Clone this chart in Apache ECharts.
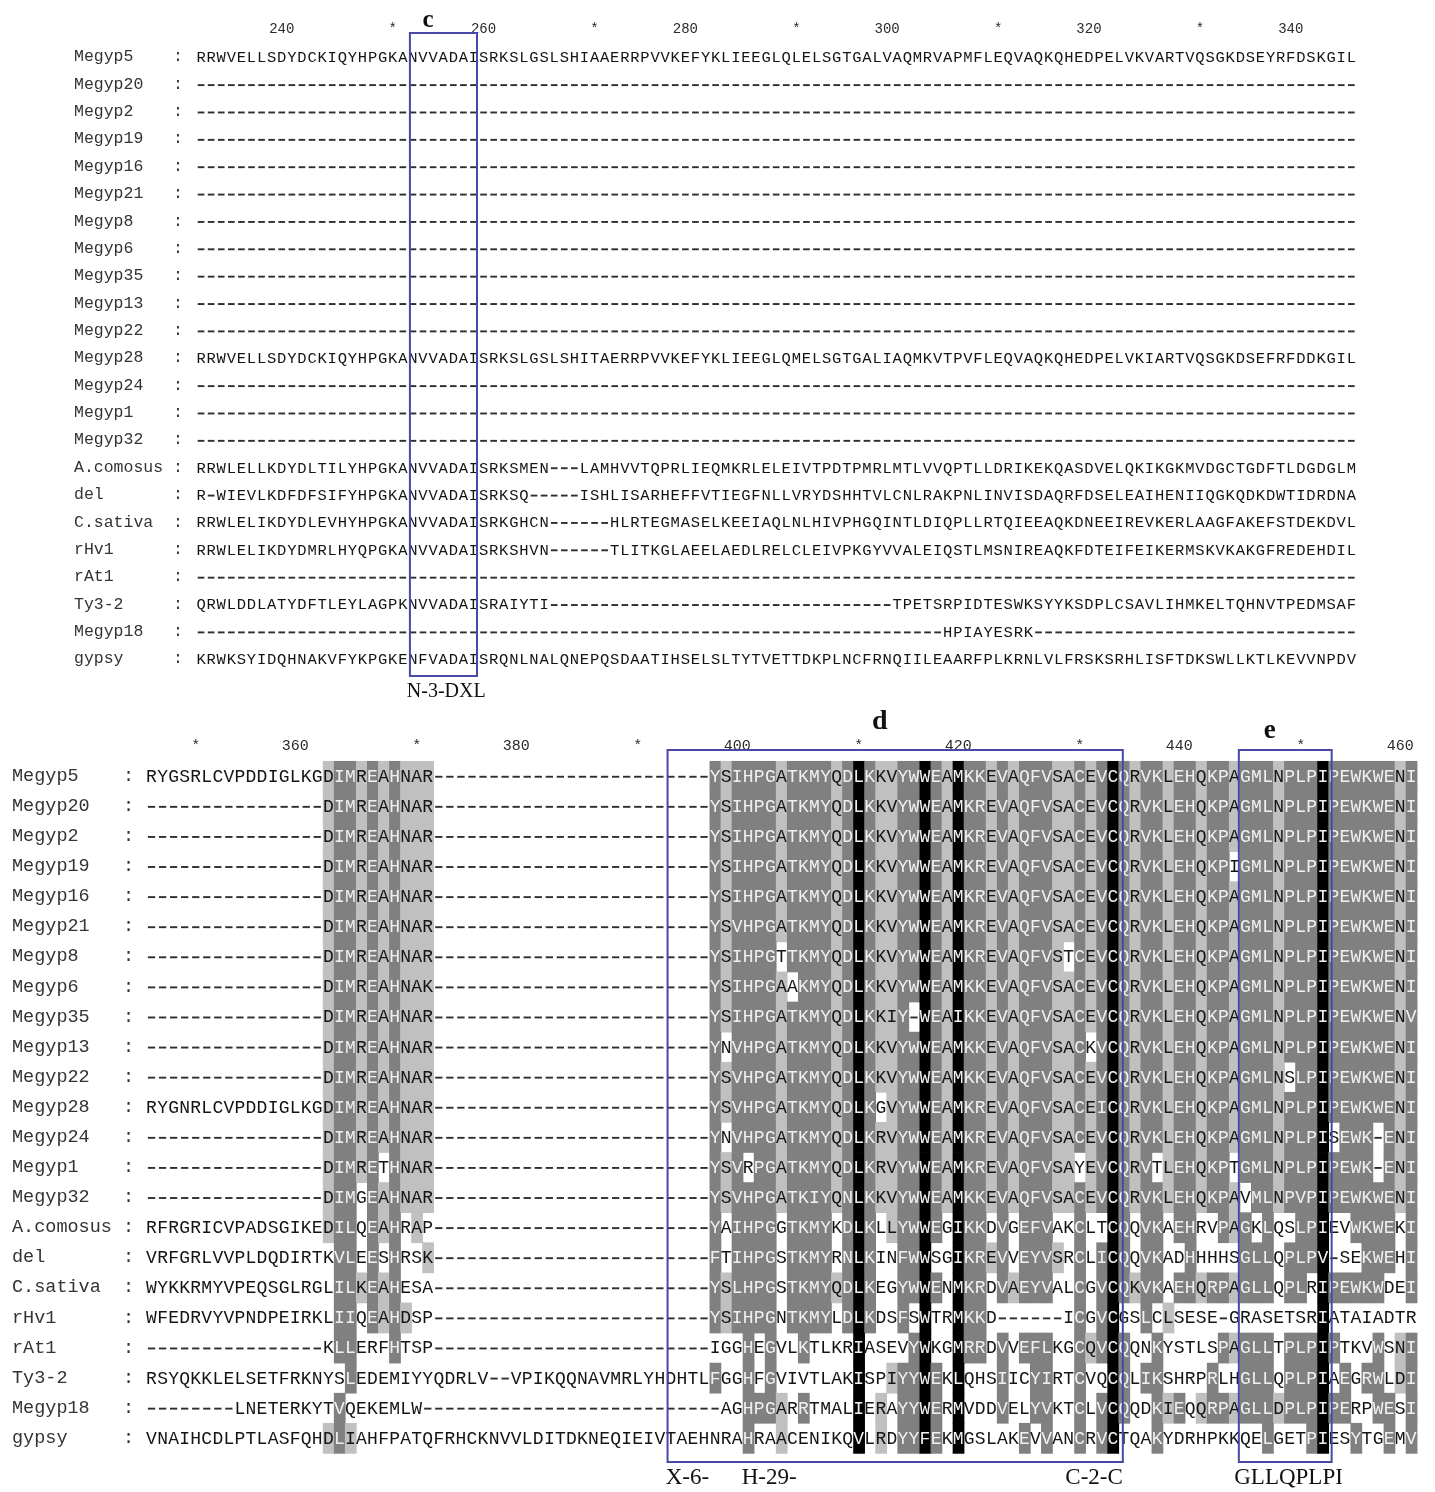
<!DOCTYPE html>
<html><head><meta charset="utf-8">
<script src="https://cdn.jsdelivr.net/npm/echarts/dist/echarts.min.js"></script>
<style>html,body{margin:0;padding:0;background:#fff}#c{width:1435px;height:1492px}</style>
</head><body><div id="c"></div>
<script>
// ---------------- DATA ----------------
const names = ['Megyp5','Megyp20','Megyp2','Megyp19','Megyp16','Megyp21','Megyp8','Megyp6','Megyp35','Megyp13','Megyp22','Megyp28','Megyp24','Megyp1','Megyp32','A.comosus','del','C.sativa','rHv1','rAt1','Ty3-2','Megyp18','gypsy'];

// alignment column of the first position of each block
const topStartCol = 231;
const bottomStartCol = 346;
// ruler tick labels
const topNumTicks = [240, 260, 280, 300, 320, 340];
const topStarTicks = [250, 270, 290, 310, 330];
const botNumTicks = [360, 380, 400, 420, 440, 460];
const botStarTicks = [350, 370, 390, 410, 430, 450];

const GAP = n => '-'.repeat(n);

// top block: columns 231-345
const topSeqs = [
 'RRWVELLSDYDCKIQYHPGKANVVADAISRKSLGSLSHIAAERRPVVKEFYKLIEEGLQLELSGTGALVAQMRVAPMFLEQVAQKQHEDPELVKVARTVQSGKDSEYRFDSKGIL',
 GAP(115), GAP(115), GAP(115), GAP(115), GAP(115), GAP(115), GAP(115), GAP(115), GAP(115), GAP(115),
 'RRWVELLSDYDCKIQYHPGKANVVADAISRKSLGSLSHITAERRPVVKEFYKLIEEGLQMELSGTGALIAQMKVTPVFLEQVAQKQHEDPELVKIARTVQSGKDSEFRFDDKGIL',
 GAP(115), GAP(115), GAP(115),
 'RRWLELLKDYDLTILYHPGKANVVADAISRKSMEN---LAMHVVTQPRLIEQMKRLELEIVTPDTPMRLMTLVVQPTLLDRIKEKQASDVELQKIKGKMVDGCTGDFTLDGDGLM',
 'R-WIEVLKDFDFSIFYHPGKANVVADAISRKSQ-----ISHLISARHEFFVTIEGFNLLVRYDSHHTVLCNLRAKPNLINVISDAQRFDSELEAIHENIIQGKQDKDWTIDRDNA',
 'RRWLELIKDYDLEVHYHPGKANVVADAISRKGHCN------HLRTEGMASELKEEIAQLNLHIVPHGQINTLDIQPLLRTQIEEAQKDNEEIREVKERLAAGFAKEFSTDEKDVL',
 'RRWLELIKDYDMRLHYQPGKANVVADAISRKSHVN------TLITKGLAEELAEDLRELCLEIVPKGYVVALEIQSTLMSNIREAQKFDTEIFEIKERMSKVKAKGFREDEHDIL',
 GAP(115),
 'QRWLDDLATYDFTLEYLAGPKNVVADAISRAIYTI' + GAP(34) + 'TPETSRPIDTESWKSYYKSDPLCSAVLIHMKELTQHNVTPEDMSAF',
 GAP(74) + 'HPIAYESRK' + GAP(32),
 'KRWKSYIDQHNAKVFYKPGKENFVADAISRQNLNALQNEPQSDAATIHSELSLTYTVETTDKPLNCFRNQIILEAARFPLKRNLVLFRSKSRHLISFTDKSWLLKTLKEVVNPDV'
];

// bottom block: columns 346-460, in three parts (0-25, 26-50, 51-114)
const botHeads = [
 'RYGSRLCVPDDIGLKGDIMREAHNAR',
 GAP(16)+'DIMREAHNAR', GAP(16)+'DIMREAHNAR', GAP(16)+'DIMREAHNAR', GAP(16)+'DIMREAHNAR',
 GAP(16)+'DIMREAHNAR', GAP(16)+'DIMREAHNAR', GAP(16)+'DIMREAHNAK', GAP(16)+'DIMREAHNAR',
 GAP(16)+'DIMREAHNAR', GAP(16)+'DIMREAHNAR',
 'RYGNRLCVPDDIGLKGDIMREAHNAR',
 GAP(16)+'DIMREAHNAR', GAP(16)+'DIMRETHNAR', GAP(16)+'DIMGEAHNAR',
 'RFRGRICVPADSGIKEDILQEAHRAP',
 'VRFGRLVVPLDQDIRTKVLEESHRSK',
 'WYKKRMYVPEQSGLRGLILKEAHESA',
 'WFEDRVYVPNDPEIRKLIIQEAHDSP',
 GAP(16)+'KLLERFHTSP',
 'RSYQKKLELSETFRKNYSLEDEMIYY',
 GAP(8)+'LNETERKYTVQEKEMLW-',
 'VNAIHCDLPTLASFQHDLIAHFPATQ'
];
const botMids = names.map((n, i) => i === 20 ? 'QDRLV--VPIKQQNAVMRLYHDHTL' : (i === 22 ? 'FRHCKNVVLDITDKNEQIEIVTAEH' : GAP(25)));
const botTails = [
 'YSIHPGATKMYQDLKKVYWWEAMKKEVAQFVSACEVCQRVKLEHQKPAGMLNPLPIPEWKWENI',
 'YSIHPGATKMYQDLKKVYWWEAMKREVAQFVSACEVCQRVKLEHQKPAGMLNPLPIPEWKWENI',
 'YSIHPGATKMYQDLKKVYWWEAMKREVAQFVSACEVCQRVKLEHQKPAGMLNPLPIPEWKWENI',
 'YSIHPGATKMYQDLKKVYWWEAMKREVAQFVSACEVCQRVKLEHQKPIGMLNPLPIPEWKWENI',
 'YSIHPGATKMYQDLKKVYWWEAMKREVAQFVSACEVCQRVKLEHQKPAGMLNPLPIPEWKWENI',
 'YSVHPGATKMYQDLKKVYWWEAMKREVAQFVSACEVCQRVKLEHQKPAGMLNPLPIPEWKWENI',
 'YSIHPGTTKMYQDLKKVYWWEAMKREVAQFVSTCEVCQRVKLEHQKPAGMLNPLPIPEWKWENI',
 'YSIHPGAAKMYQDLKKVYWWEAMKKEVAQFVSACEVCQRVKLEHQKPAGMLNPLPIPEWKWENI',
 'YSIHPGATKMYQDLKKIY-WEAIKKEVAQFVSACEVCQRVKLEHQKPAGMLNPLPIPEWKWENV',
 'YNVHPGATKMYQDLKKVYWWEAMKKEVAQFVSACKVCQRVKLEHQKPAGMLNPLPIPEWKWENI',
 'YSVHPGATKMYQDLKKVYWWEAMKKEVAQFVSACEVCQRVKLEHQKPAGMLNSLPIPEWKWENI',
 'YSVHPGATKMYQDLKGVYWWEAMKREVAQFVSACEICQRVKLEHQKPAGMLNPLPIPEWKWENI',
 'YNVHPGATKMYQDLKRVYWWEAMKREVAQFVSACEVCQRVKLEHQKPAGMLNPLPISEWK-ENI',
 'YSVRPGATKMYQDLKRVYWWEAMKREVAQFVSAYEVCQRVTLEHQKPTGMLNPLPIPEWK-ENI',
 'YSVHPGATKIYQNLKKVYWWEAMKKEVAQFVSACEVCQRVKLEHQKPAVMLNPVPIPEWKWENI',
 'YAIHPGGTKMYKDLKLLYWWEGIKKDVGEFVAKCLTCQQVKAEHRVPAGKLQSLPIEVWKWEKI',
 'FTIHPGSTKMYRNLKINFWWSGIKREVVEYVSRCLICQQVKADHHHHSGLLQPLPV-SEKWEHI',
 'YSLHPGSTKMYQDLKEGYWWENMKRDVAEYVALCGVCQKVKAEHQRPAGLLQPLRIPEWKWDEI',
 'YSIHPGNTKMYLDLKDSFSWTRMKKD------ICGVCGSLCLSESE-GRASETSRIATAIADTR',
 'IGGHEGVLKTLKRIASEVYWKGMRRDVVEFLKGCQVCQQNKYSTLSPAGLLTPLPIPTKVWSNI',
 'FGGHFGVIVTLAKISPIYYWEKLQHSIICYIRTCVQCQLIKSHRPRLHGLLQPLPIAEGRWLDI',
 '-AGHPGARRTMALIERAYYWERMVDDVELYVKTCLVCQQDKIEQQRPAGLLDPLPIPERPWESI',
 'NRAHRAACENIKQVLRDYYFEKMGSLAKEVVANCRVCTQAKYDRHPKKQELGETPIESYTGEMV'
];

// shading: 0 none, 1 light grey, 2 dark grey, 3 black
const Z16 = '0000000000000000';
const shadeHeads = [
 Z16+'1221212111', Z16+'1221212111', Z16+'1221212111', Z16+'1221212111', Z16+'1221212111',
 Z16+'1221212111', Z16+'1221212111', Z16+'1221212111', Z16+'1221212111', Z16+'1221212111',
 Z16+'1221212111', Z16+'1221212111', Z16+'1221212111', Z16+'1221202111', Z16+'1220212111',
 Z16+'1220212010', Z16+'0220202001', Z16+'0221212000', Z16+'0220212100', Z16+'0220002000',
 Z16+'0020000000', Z16+'0200000000', Z16+'1210000000'
];
const shadeMids = names.map(() => '0000000000000000000000000');
const shadeTails = [
 '2122221222'+'2123211223'+'2132212122'+'2112123212'+'2122122122'+'2122232222'+'2212',
 '2122221222'+'2123211223'+'2132212122'+'2112123212'+'2122122122'+'2122232222'+'2212',
 '2122221222'+'2123211223'+'2132212122'+'2112123212'+'2122122122'+'2122232222'+'2212',
 '2122221222'+'2123211223'+'2132212122'+'2112123212'+'2122122022'+'2122232222'+'2212',
 '2122221222'+'2123211223'+'2132212122'+'2112123212'+'2122122122'+'2122232222'+'2212',
 '2122221222'+'2123211223'+'2132212122'+'2112123212'+'2122122122'+'2122232222'+'2212',
 '2122220222'+'2123211223'+'2132212122'+'2102123212'+'2122122122'+'2122232222'+'2212',
 '2122221022'+'2123211223'+'2132212122'+'2112123212'+'2122122122'+'2122232222'+'2212',
 '2122221222'+'2123211203'+'2132212122'+'2112123212'+'2122122122'+'2122232222'+'2212',
 '2022221222'+'2123211223'+'2132212122'+'2112023212'+'2122122122'+'2122232222'+'2212',
 '2122221222'+'2123211223'+'2132212122'+'2112123212'+'2122122122'+'2102232222'+'2212',
 '2122221222'+'2123201223'+'2132212122'+'2112123212'+'2122122122'+'2122232222'+'2212',
 '2022221222'+'2123211223'+'2132212122'+'2112123212'+'2122122122'+'2122230222'+'0212',
 '2120221222'+'2123211223'+'2132212122'+'2110123212'+'0122122022'+'2122232222'+'0212',
 '2122221222'+'2123211223'+'2132212122'+'2112123212'+'2122122102'+'2122232222'+'2212',
 '2022220222'+'2023201223'+'2032202022'+'2002003202'+'2022002120'+'2002230022'+'2202',
 '2022220222'+'2023200223'+'0032212022'+'2102023202'+'2002000022'+'2022230002'+'2202',
 '2122220222'+'2123200223'+'2032202122'+'2002023212'+'2022122122'+'2022032222'+'2002',
 '2122220222'+'2023200203'+'0032200000'+'0002023002'+'0100000000'+'0000030000'+'0000',
 '0002020020'+'0003000023'+'0032202022'+'2002123200'+'2000002122'+'2022232000'+'2012',
 '2002020000'+'0003001223'+'2030002002'+'2002003202'+'2000020022'+'2022230202'+'2012',
 '0002221020'+'0003010223'+'2030002002'+'2002023200'+'2120122122'+'2122232200'+'2202',
 '0002001000'+'0003010223'+'2030000020'+'2002023000'+'2000000000'+'2000230020'+'0202'
];

// ---------------- BUILD ----------------
const botSeqs = names.map((n, i) => botHeads[i] + botMids[i] + botTails[i]);
const botShades = names.map((n, i) => shadeHeads[i] + shadeMids[i] + shadeTails[i]);
[topSeqs, botSeqs, botShades].forEach((arr, k) => arr.forEach((s, i) => {
  if (s.length !== 115) throw new Error('length ' + k + ' row ' + i + ' = ' + s.length);
}));

const SHADE = ['#ffffff', '#c0c0c0', '#808080', '#000000'];
const MONO = '"Liberation Mono", "DejaVu Sans Mono", monospace';
const SERIF = '"Liberation Serif", "DejaVu Serif", serif';
const BOX = '#4848a8';

const pad = s => (s + '          ').slice(0, 10) + ':';

function cellSeries(gi, seqs, shades, fontSize) {
  const data = [];
  seqs.forEach((s, r) => { for (let p = 0; p < s.length; p++) data.push([p, r, shades ? +shades[r][p] : 0]); });
  return {
    type: 'custom', xAxisIndex: gi, yAxisIndex: gi, silent: true, animation: false,
    progressive: 0, data, encode: { x: 0, y: 1 },
    renderItem(params, api) {
      const p = api.value(0), r = api.value(1), lv = api.value(2);
      const c = api.coord([p, r]);
      const sz = api.size([1, 1]);
      const ch = seqs[r][p];
      const kids = [];
      if (lv > 0) kids.push({ type: 'rect', shape: { x: c[0] - sz[0] / 2, y: c[1] - sz[1] / 2, width: sz[0] + 0.7, height: sz[1] + 0.7 }, style: { fill: SHADE[lv] } });
      const col = lv >= 2 ? '#f0f0f0' : '#141414';
      if (ch === '-') {
        kids.push({ type: 'rect', shape: { x: c[0] - sz[0] * 0.33, y: c[1] - 0.2, width: sz[0] * 0.66, height: 1.9 }, style: { fill: lv >= 2 ? col : '#2e2e2e' } });
      } else {
        kids.push({ type: 'text', style: { text: ch, x: c[0], y: c[1] + 1, align: 'center', verticalAlign: 'middle', font: fontSize + 'px ' + MONO, fill: col } });
      }
      return { type: 'group', children: kids };
    }
  };
}

function textSeries(gi, items) {
  return {
    type: 'custom', xAxisIndex: gi, yAxisIndex: gi, silent: true, animation: false, clip: false,
    data: items.map(it => [it.x, it.y]), encode: { x: 0, y: 1 }, z: 5,
    renderItem(params, api) {
      const it = items[params.dataIndex];
      const c = api.coord([api.value(0), api.value(1)]);
      return { type: 'text', style: { text: it.text, x: c[0], y: c[1], align: 'center', verticalAlign: 'middle', font: it.font, fill: it.color || '#2a2a2a' } };
    }
  };
}

function boxSeries(gi, boxes) {
  return {
    type: 'custom', xAxisIndex: gi, yAxisIndex: gi, silent: true, animation: false, clip: false, z: 10,
    data: boxes, encode: { x: [0, 1], y: [2, 3] },
    renderItem(params, api) {
      const a = api.coord([api.value(0), api.value(2)]);
      const b = api.coord([api.value(1), api.value(3)]);
      return { type: 'rect', shape: { x: a[0], y: a[1], width: b[0] - a[0], height: b[1] - a[1] }, style: { fill: 'none', stroke: BOX, lineWidth: 2 } };
    }
  };
}

function rulerItems(startCol, nums, stars, font) {
  return nums.map(t => ({ x: t - startCol - 1, y: -1, text: String(t), font }))
    .concat(stars.map(t => ({ x: t - startCol, y: -1, text: '*', font })));
}

const topRow = 27.364, botRow = 30.09;
const grids = [
  { left: 196, top: 57 - 2 * topRow, width: 115 * 10.09, height: 25 * topRow },
  { left: 146, top: 776 - 2 * botRow, width: 115 * 11.05, height: 25 * botRow }
];
const xAxes = [0, 1].map(g => ({ type: 'value', gridIndex: g, min: -0.5, max: 114.5, show: false }));
const yAxes = [0, 1].map(g => ({
  type: 'value', gridIndex: g, min: -2, max: 23, interval: 1, inverse: true,
  axisLine: { show: false }, axisTick: { show: false }, splitLine: { show: false },
  axisLabel: {
    show: true, align: 'left', margin: g === 0 ? 122 : 134,
    fontFamily: MONO, fontSize: g === 0 ? 16.5 : 18.5, color: '#333',
    formatter: v => (v >= 0 && v < names.length) ? pad(names[v]) : ''
  }
}));

const topAnn = [
  { x: 22.5, y: -1.35, text: 'c', font: 'bold 25px ' + SERIF, color: '#111' },
  { x: 24.3, y: 23.2, text: 'N-3-DXL', font: '20px ' + SERIF, color: '#111' }
];
const botAnn = [
  { x: 65.9, y: -1.8, text: 'd', font: 'bold 28px ' + SERIF, color: '#111' },
  { x: 101.2, y: -1.5, text: 'e', font: 'bold 27px ' + SERIF, color: '#111' },
  { x: 48.5, y: 23.33, text: 'X-6-', font: '23px ' + SERIF, color: '#111' },
  { x: 55.9, y: 23.33, text: 'H-29-', font: '23px ' + SERIF, color: '#111' },
  { x: 85.3, y: 23.33, text: 'C-2-C', font: '23px ' + SERIF, color: '#111' },
  { x: 102.9, y: 23.33, text: 'GLLQPLPI', font: '23px ' + SERIF, color: '#111' }
];

const chart = echarts.init(document.getElementById('c'), null, { renderer: 'canvas' });
chart.setOption({
  backgroundColor: '#fff',
  animation: false,
  grid: grids,
  xAxis: xAxes,
  yAxis: yAxes,
  series: [
    cellSeries(0, topSeqs, null, 15.5),
    cellSeries(1, botSeqs, botShades, 18),
    textSeries(0, rulerItems(topStartCol, topNumTicks, topStarTicks, '14px ' + MONO).concat(topAnn)),
    textSeries(1, rulerItems(bottomStartCol, botNumTicks, botStarTicks, '15px ' + MONO).concat(botAnn)),
    boxSeries(0, [[20.7, 27.35, -0.88, 22.62]]),
    boxSeries(1, [[46.7, 87.9, -0.86, 22.8], [98.4, 106.8, -0.86, 22.8]])
  ]
});
</script>
</body></html>
